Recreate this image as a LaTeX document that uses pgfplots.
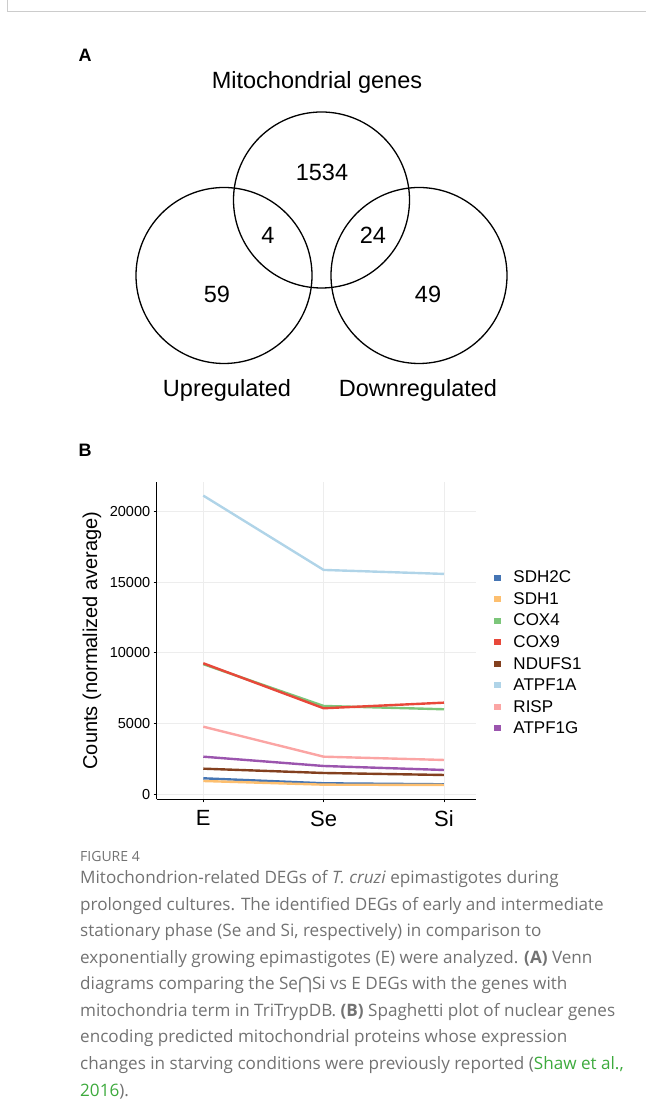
\documentclass[border=0pt]{standalone}
\usepackage{fontspec}
\setmainfont{Liberation Sans}
\newfontfamily\capfont{Open Sans}
\newfontfamily\symfont{DejaVu Sans}
\usepackage{pgfplots}
\pgfplotsset{compat=1.18}

\definecolor{cSDHtwoC}{HTML}{4575B4}
\definecolor{cSDHone}{HTML}{FDBF6F}
\definecolor{cCOXfour}{HTML}{7CC67A}
\definecolor{cCOXnine}{HTML}{E8483A}
\definecolor{cNDUFS}{HTML}{83401F}
\definecolor{cATPA}{HTML}{B0D4E8}
\definecolor{cRISP}{HTML}{FBA5A4}
\definecolor{cATPG}{HTML}{9B55AE}
\definecolor{capgray}{HTML}{727272}
\definecolor{capgreen}{HTML}{3DAA3D}

% counts per stage (0 = E, 1 = Se, 2 = Si)
\pgfplotstableread{
x SDH2C SDH1 COX4 COX9 NDUFS1 ATPF1A RISP ATPF1G
0 1130  940  9200 9264 1811   21117  4781 2659
1 778   680  6245 6082 1506   15862  2659 2001
2 707   660  6011 6478 1365   15580  2426 1718
}\genes

\newcommand{\fs}[1]{\fontsize{#1}{1.2\dimexpr#1pt\relax}\selectfont}

\begin{document}
\begin{tikzpicture}[x=1pt,y=1pt]
\path[use as bounding box] (0,0) rectangle (646,1101);
\draw[black!20, line width=1pt] (7,1101) -- (7,1089) -- (646,1089);

% panel A
\node[font=\fs{18}\bfseries] at (85,1046) {A};
\node[font=\fs{23.5}] at (317,1019) {Mitochondrial genes};
\draw[line width=1.3pt] (321.5,901) circle (88pt);
\draw[line width=1.3pt] (224,825.5) circle (88pt);
\draw[line width=1.3pt] (419,825.5) circle (88pt);
\node[font=\fs{23.5}] at (322,929) {1534};
\node[font=\fs{23.5}] at (268,866) {4};
\node[font=\fs{23.5}] at (373,866) {24};
\node[font=\fs{23.5}] at (217,807) {59};
\node[font=\fs{23.5}] at (428,807) {49};
\node[font=\fs{23.5}] at (227,711) {Upregulated};
\node[font=\fs{23.5}] at (418,711) {Downregulated};

% panel B
\node[font=\fs{18}\bfseries] at (85,651) {B};
\begin{axis}[
  at={(156.7pt,301.7pt)}, anchor=south west,
  scale only axis, width=319.3pt, height=317.6pt,
  xmin=-0.387, xmax=2.266, ymin=-354, ymax=22100,
  axis x line*=bottom, axis y line*=left,
  axis line style={line width=0.9pt, black},
  xtick={0,1,2}, xticklabels={E,Se,Si},
  ytick={0,5000,10000,15000,20000},
  scaled ticks=false,
  /pgf/number format/assume math mode=true,
  /pgf/number format/1000 sep={},
  tick align=outside, major tick length=3pt,
  tick style={black, line width=0.8pt},
  grid=major, major grid style={color=black!7, line width=0.7pt},
  xticklabel style={font=\fs{22}, yshift=-5pt},
  yticklabel style={font=\fs{14.5}},
  ylabel={Counts (normalized average)},
  ylabel style={font=\fs{20}, at={(axis description cs:-0.203,0.5)}, anchor=center},
  legend style={at={(axis description cs:1.056,0.4607)}, anchor=west,
    draw=none, fill=none, font=\fs{17}, row sep=4.2pt, column sep=10pt,
    inner sep=0pt},
  legend cell align=left,
  legend image code/.code={\fill (0pt,-1.8pt) rectangle (5pt,1.8pt);},
  every axis plot/.append style={line width=2.4pt},
]
\addplot[cSDHtwoC] table[x=x, y=SDH2C] {\genes};
\addplot[cSDHone] table[x=x, y=SDH1] {\genes};
\addplot[cCOXfour] table[x=x, y=COX4] {\genes};
\addplot[cCOXnine] table[x=x, y=COX9] {\genes};
\addplot[cNDUFS] table[x=x, y=NDUFS1] {\genes};
\addplot[cATPA] table[x=x, y=ATPF1A] {\genes};
\addplot[cRISP] table[x=x, y=RISP] {\genes};
\addplot[cATPG] table[x=x, y=ATPF1G] {\genes};
\legend{SDH2C,SDH1,COX4,COX9,NDUFS1,ATPF1A,RISP,ATPF1G}
\end{axis}

% caption
\begin{scope}[every node/.style={anchor=base west, inner sep=0pt, text=capgray, font=\capfont\fs{17.1}}]
\node[font=\capfont\fs{14}] at (80,239) {FIGURE 4};
\node at (80,217) {Mitochondrion-related DEGs of \textit{T. cruzi} epimastigotes during};
\node at (80,190) {prolonged cultures. The identified DEGs of early and intermediate};
\node at (80,164) {stationary phase (Se and Si, respectively) in comparison to};
\node at (80,137) {exponentially growing epimastigotes (E) were analyzed. \textbf{(A)} Venn};
\node at (80,111) {diagrams comparing the Se{\symfont ⋂}Si vs E DEGs with the genes with};
\node at (80,84) {mitochondria term in TriTrypDB. \textbf{(B)} Spaghetti plot of nuclear genes};
\node at (80,58) {encoding predicted mitochondrial proteins whose expression};
\node at (80,31) {changes in starving conditions were previously reported (\textcolor{capgreen}{Shaw et al.,}};
\node at (80,5) {\textcolor{capgreen}{2016}).};
\end{scope}
\end{tikzpicture}
\end{document}
